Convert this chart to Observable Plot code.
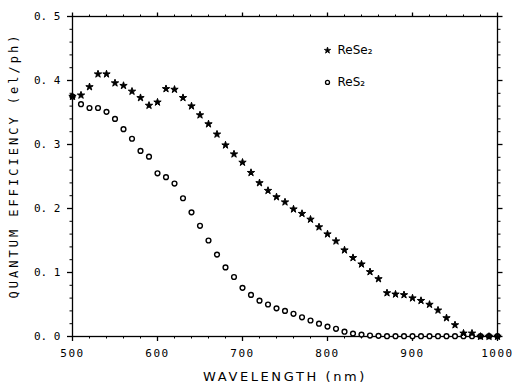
<!DOCTYPE html>
<html>
<head>
<meta charset="utf-8">
<script src="https://cdn.jsdelivr.net/npm/d3@7"></script>
<script src="https://cdn.jsdelivr.net/npm/@observablehq/plot@0.6"></script>
<style>
  html, body { margin: 0; padding: 0; background: #fff; }
  #chart svg { display: block; }
</style>
</head>
<body>
<div id="chart"></div>
<script>
// ---- data ----
const wavelength = [500,510,520,530,540,550,560,570,580,590,600,610,620,630,640,650,660,670,680,690,
  700,710,720,730,740,750,760,770,780,790,800,810,820,830,840,850,860,870,880,890,
  900,910,920,930,940,950,960,970,980,990,1000];
const reSe2 = [0.375,0.377,0.390,0.410,0.410,0.396,0.392,0.383,0.373,0.361,0.366,0.387,0.386,0.373,0.360,0.346,0.332,0.316,0.299,0.285,
  0.272,0.256,0.240,0.228,0.218,0.210,0.199,0.192,0.183,0.171,0.160,0.149,0.135,0.123,0.113,0.101,0.090,0.068,0.066,0.065,
  0.060,0.056,0.050,0.041,0.029,0.018,0.005,0.005,0.000,0.000,0.000];
const reS2 = [0.375,0.363,0.357,0.357,0.351,0.340,0.324,0.309,0.290,0.281,0.255,0.249,0.239,0.216,0.194,0.173,0.150,0.128,0.108,0.093,
  0.076,0.065,0.056,0.050,0.044,0.040,0.0355,0.030,0.025,0.020,0.0155,0.012,0.0075,0.0045,0.003,0.0015,0.001,0.0005,0.0005,0.0005,
  0.0005,0.0005,0.0005,0.0005,0.0005,0.0005,0.0005,0.0005,0.0005,0.0005,0.0005];

const xMajorTicks = [500,600,700,800,900,1000];
const xMinorTicks = d3.range(500, 1001, 20);
const yMajorTicks = [0,0.1,0.2,0.3,0.4,0.5];
const yMinorTicks = d3.range(0, 51, 2).map(d => d / 100);
const xLabel = "WAVELENGTH (nm)";
const yLabel = "QUANTUM EFFICIENCY (el/ph)";

const legendNames = ["ReSe₂", "ReS₂"];
const legendSymbols = ["star", "circle"];
const legendX = [800, 800];
const legendY = [0.447, 0.397];

// ---- tables ----
const seRows = wavelength.map((w, i) => ({w, q: reSe2[i]}));
const sRows = wavelength.map((w, i) => ({w, q: reS2[i]}));
const legendRows = legendNames.map((name, i) => ({name, sym: legendSymbols[i], x: legendX[i], y: legendY[i]}));

const font = "DejaVu Sans Mono";
const blank = () => "";

const plot = Plot.plot({
  width: 514,
  height: 388,
  marginLeft: 72,
  marginRight: 17,
  marginTop: 16,
  marginBottom: 52,
  x: {domain: [500, 1000]},
  y: {domain: [0, 0.5]},
  style: {fontFamily: font, fontSize: "11px", color: "black", background: "white", overflow: "visible"},
  marks: [
    // minor ticks
    Plot.axisX({ticks: xMinorTicks, tickSize: 2.5, tickFormat: blank, label: null, strokeWidth: 1}),
    Plot.axisX({anchor: "top", ticks: xMinorTicks, tickSize: 2.5, tickFormat: blank, label: null, strokeWidth: 1}),
    Plot.axisY({ticks: yMinorTicks, tickSize: 2.5, tickFormat: blank, label: null, strokeWidth: 1}),
    Plot.axisY({anchor: "right", ticks: yMinorTicks, tickSize: 2.5, tickFormat: blank, label: null, strokeWidth: 1}),
    // major ticks
    Plot.axisX({ticks: xMajorTicks, tickSize: 5, tickPadding: 8, tickFormat: d => String(d), label: null, fontSize: 11, strokeWidth: 1.3}),
    Plot.axisX({anchor: "top", ticks: xMajorTicks, tickSize: 4.5, tickFormat: blank, label: null, strokeWidth: 1.3}),
    Plot.axisY({ticks: yMajorTicks, tickSize: 5, tickPadding: 7, tickFormat: d => d.toFixed(1).replace(".", ". "), label: null, fontSize: 11, strokeWidth: 1.3}),
    Plot.axisY({anchor: "right", ticks: yMajorTicks, tickSize: 4.5, tickFormat: blank, label: null, strokeWidth: 1.3}),
    Plot.frame({stroke: "black", strokeWidth: 1.3}),
    // data
    Plot.dot(sRows, {x: "w", y: "q", symbol: "circle", r: 2.4, stroke: "black", fill: "white", strokeWidth: 1.4}),
    Plot.dot(seRows, {x: "w", y: "q", symbol: "star", r: 2.3, fill: "black", stroke: "black", strokeWidth: 1}),
    // legend
    Plot.dot(legendRows.filter(d => d.sym === "star"), {x: "x", y: "y", symbol: "star", r: 2.0, fill: "black", stroke: "black", strokeWidth: 0.8}),
    Plot.dot(legendRows.filter(d => d.sym === "circle"), {x: "x", y: "y", symbol: "circle", r: 2.0, stroke: "black", fill: "white", strokeWidth: 1.3}),
    Plot.text(legendRows, {x: "x", y: "y", text: "name", textAnchor: "start", dx: 10, fontSize: 12, fontFamily: "DejaVu Sans"}),
    // axis titles
    Plot.text([xLabel], {frameAnchor: "bottom", text: d => d, dy: 44, fontSize: 13, fontFamily: "DejaVu Sans"}),
    Plot.text([yLabel], {frameAnchor: "left", textAnchor: "middle", text: d => d, rotate: -90, dx: -58, dy: -11, fontSize: 12, fontFamily: "DejaVu Sans Mono"})
  ]
});

d3.select(plot).selectAll("text").each(function () {
  const t = this.textContent;
  if (t === xLabel) d3.select(this).attr("letter-spacing", "2.6px");
  else if (t === yLabel) d3.select(this).attr("letter-spacing", "3px");
  else if (/^\d+$/.test(t)) d3.select(this).attr("letter-spacing", "1.5px");
  else if (/^0\. \d$/.test(t)) d3.select(this).attr("letter-spacing", "0px");
});

document.getElementById("chart").appendChild(plot);
</script>
</body>
</html>
